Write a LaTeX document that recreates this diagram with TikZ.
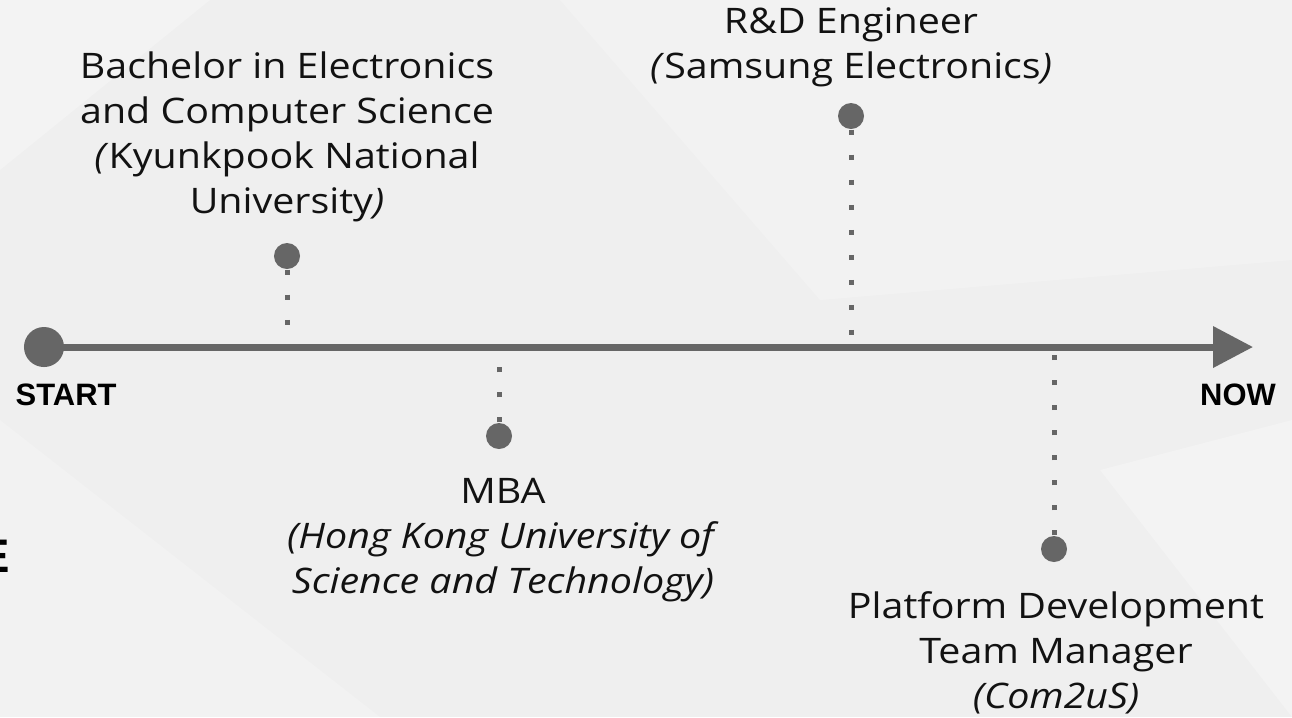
\documentclass[tikz,border=0pt]{standalone}
\usepackage{fontspec}
\setmainfont{Open Sans}[FakeStretch=1.12]
\newfontfamily\markfont{Liberation Sans}
\usetikzlibrary{positioning,arrows.meta}
\definecolor{axisgray}{HTML}{666666}
\definecolor{bggray}{HTML}{EFEFEF}

\begin{document}
\begin{tikzpicture}[x=0.01cm,y=-0.01cm,
event/.style={circle,fill=axisgray,inner sep=0pt,minimum size=0.26cm},
info/.style={align=center,inner sep=0pt,text=black!93,font=\fontsize{10}{12.8}\selectfont},
endlabel/.style={inner sep=0pt,font=\markfont\bfseries\fontsize{8.8}{10}\selectfont},
dotline/.style={axisgray,line width=0.05cm,dash pattern=on 0.05cm off 0.2cm}]
% background
\fill[bggray] (0,0) rectangle (1292,717);
\useasboundingbox (0,0) rectangle (1292,717);
\fill[white,opacity=.25] (0,170) -- (210,0) -- (0,0) -- cycle;
\fill[white,opacity=.2] (560,0) -- (1292,0) -- (1292,260) -- (820,300) -- cycle;
\fill[white,opacity=.2] (0,420) -- (380,717) -- (0,717) -- cycle;
\fill[white,opacity=.25] (1100,470) -- (1292,420) -- (1292,717) -- cycle;
\begin{scope}
\clip (0,0) rectangle (1292,717);
\node[inner sep=0pt,anchor=base east,font=\markfont\bfseries\fontsize{13.4}{14}\selectfont] (edgemark) at (11,572) {E};
\end{scope}

% axis
\node[event,minimum size=0.4cm] (start) at (44,347) {};
\coordinate (now) at (1253,347);
\draw[axisgray,line width=0.07cm,-{Triangle[length=0.4cm,width=0.4cm]}] (start.center) -- (now);
\node[endlabel,anchor=north west] (startlbl) at (15,383) {START};
\node[endlabel,anchor=north] (nowlbl) at (1238,383) {NOW};

% events
\node[event] (bachdot) at (287,256) {};
\node[event] (mbadot) at (499,436) {};
\node[event] (rnddot) at (851,116) {};
\node[event] (com2usdot) at (1054,549) {};

\draw[dotline] (bachdot) -- (bachdot |- start);
\draw[dotline] (mbadot) -- (mbadot |- start);
\draw[dotline] (rnddot) -- (rnddot |- start);
\draw[dotline] (com2usdot) -- (com2usdot |- start);

\node[info,above=0.2cm of bachdot] (bachtxt) {Bachelor in Electronics\\and Computer Science\\\textit{(}Kyunkpook National\\University\textit{)}};
\node[info,above=0.15cm of rnddot] (rndtxt) {R\&D Engineer\\\textit{(}Samsung Electronics\textit{)}};
\node[info,below=0.28cm of mbadot,xshift=0.04cm] (mbatxt) {MBA\\\textit{(Hong Kong University of}\\\textit{Science and Technology)}};
\node[info,below=0.28cm of com2usdot,xshift=0.02cm] (com2ustxt) {Platform Development\\Team Manager\\\textit{(Com2uS)}};
\end{tikzpicture}
\end{document}
